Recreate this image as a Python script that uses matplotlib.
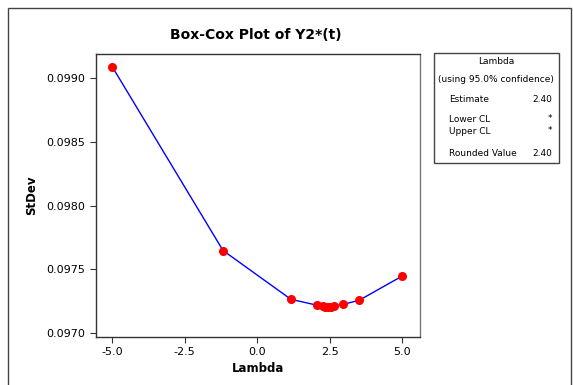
import matplotlib.pyplot as plt
from matplotlib.patches import Rectangle

# Box-Cox search points
lambdas = [-5.0, -1.18, 1.16, 2.07, 2.25, 2.35, 2.45, 2.55, 2.65, 2.97, 3.51, 5.0]
stdevs = [0.099091, 0.097648, 0.097265, 0.097218, 0.097210, 0.097208, 0.097207,
          0.097208, 0.097211, 0.097226, 0.097257, 0.097448]

x_ticks = [-5.0, -2.5, 0.0, 2.5, 5.0]
y_ticks = [0.0970, 0.0975, 0.0980, 0.0985, 0.0990]

legend_rows = [("Estimate", "2.40"), ("Lower CL", "*"), ("Upper CL", "*"),
               ("Rounded Value", "2.40")]

W, H = 573, 385
fig = plt.figure(figsize=(W / 100, H / 100), dpi=100)
ax = fig.add_axes([95.7 / W, 1 - 337 / H, (420 - 95.7) / W, (337 - 53.5) / H])

ax.plot(lambdas, stdevs, color='blue', linewidth=1, zorder=2)
ax.plot(lambdas, stdevs, 'o', color='red', markersize=5.5, zorder=3)

ax.set_xlim(-5.57, 5.61)
ax.set_ylim(0.096969, 0.099195)
ax.set_xticks(x_ticks)
ax.set_xticklabels([f"{v:.1f}" for v in x_ticks])
ax.set_yticks(y_ticks)
ax.set_yticklabels([f"{v:.4f}" for v in y_ticks])
ax.tick_params(direction='out', length=4, labelsize=8, color='#333333')
for name, sp in ax.spines.items():
    sp.set_color('#333333' if name in ('left', 'bottom', 'top') else '#777777')
    sp.set_linewidth(1)

ax.set_xlabel("Lambda", fontsize=8.5, fontweight='bold', labelpad=3)
ax.set_ylabel("StDev", fontsize=8.5, fontweight='bold', labelpad=6)
fig.text(256 / W, 1 - 35 / H, "Box-Cox Plot of Y2*(t)", fontsize=10,
         fontweight='bold', ha='center', va='center')

# outer frame
fig.patches.append(Rectangle((7.5 / W, -0.05), (571 - 7.5) / W, 1.05 - 8 / H,
                             transform=fig.transFigure, fill=False,
                             edgecolor='#444444', linewidth=1))

# lambda summary box
bx0, bx1, by0, by1 = 434, 558.5, 53, 163
fig.patches.append(Rectangle((bx0 / W, 1 - by1 / H), (bx1 - bx0) / W, (by1 - by0) / H,
                             transform=fig.transFigure, fill=False,
                             edgecolor='#444444', linewidth=1))
cx = (bx0 + bx1) / 2 / W
fig.text(cx, 1 - 62 / H, "Lambda", fontsize=6.5, ha='center', va='center')
fig.text(cx, 1 - 80 / H, "(using 95.0% confidence)", fontsize=6.5,
         ha='center', va='center')
row_y = [99, 119, 131, 153]
for (name, val), y in zip(legend_rows, row_y):
    fig.text(449 / W, 1 - y / H, name, fontsize=6.5, ha='left', va='center')
    fig.text(552.5 / W, 1 - y / H, val, fontsize=6.5, ha='right', va='center')

fig.savefig("out.png", dpi=100)
